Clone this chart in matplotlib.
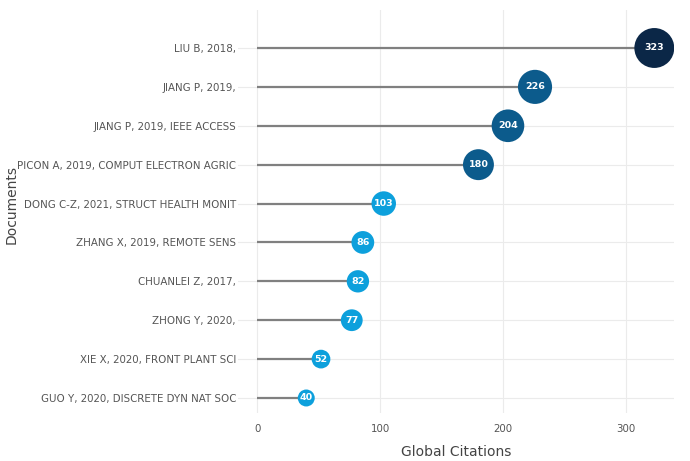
import matplotlib
matplotlib.use("Agg")
import matplotlib.pyplot as plt
import numpy as np

documents = [
    "LIU B, 2018,",
    "JIANG P, 2019,",
    "JIANG P, 2019, IEEE ACCESS",
    "PICON A, 2019, COMPUT ELECTRON AGRIC",
    "DONG C-Z, 2021, STRUCT HEALTH MONIT",
    "ZHANG X, 2019, REMOTE SENS",
    "CHUANLEI Z, 2017,",
    "ZHONG Y, 2020,",
    "XIE X, 2020, FRONT PLANT SCI",
    "GUO Y, 2020, DISCRETE DYN NAT SOC",
]
citations = [323, 226, 204, 180, 103, 86, 82, 77, 52, 40]
x_ticks = [0, 100, 200, 300]

W, H = 690, 461
fig = plt.figure(figsize=(W / 100, H / 100), dpi=100)
ax = fig.add_axes([238 / W, 1 - 413 / H, (674 - 238) / W, (413 - 10) / H])

n = len(documents)
ypos = np.arange(n)[::-1]

def color_for(v):
    if v >= 300:
        return "#0b2747"
    if v >= 150:
        return "#0c5b8c"
    return "#0da0dc"

for y, v in zip(ypos, citations):
    ax.plot([0, v], [y, y], color="#808080", lw=1.6, zorder=2, solid_capstyle="butt")

diam_px = [4.5 + 1.97 * np.sqrt(v) for v in citations]
sizes = [(d * 0.72) ** 2 for d in diam_px]
ax.scatter(citations, ypos, s=sizes, c=[color_for(v) for v in citations],
           zorder=3, linewidths=0)
for y, v in zip(ypos, citations):
    ax.text(v, y, str(v), ha="center", va="center", color="white",
            fontsize=6.8, fontweight="bold", zorder=4)

ax.set_xlim(-15.5, 339)
ax.set_ylim(-0.386, 9.977)
ax.set_xticks(x_ticks)
ax.set_xticklabels([str(t) for t in x_ticks])
ax.set_yticks(ypos)
ax.set_yticklabels(documents)
ax.tick_params(axis="both", length=0, labelsize=7.4, labelcolor="#555555")
ax.tick_params(axis="y", pad=1.5)
ax.tick_params(axis="x", pad=8)
ax.grid(True, color="#ebebeb", lw=0.8, zorder=0)
ax.set_axisbelow(True)
for s in ax.spines.values():
    s.set_visible(False)

ax.set_xlabel("Global Citations", fontsize=10, color="#444444", labelpad=8)
fig.text(12 / W, 1 - 205 / H, "Documents", rotation=90, ha="center", va="center",
         fontsize=10, color="#444444")

fig.savefig("out.png", dpi=100, facecolor="white")
